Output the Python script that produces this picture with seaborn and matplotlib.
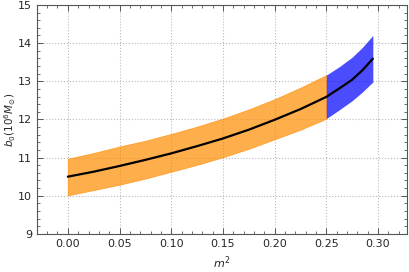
import numpy as np
import pandas as pd
import seaborn as sns
import matplotlib
matplotlib.use("Agg")
import matplotlib.pyplot as plt
from matplotlib.ticker import MultipleLocator

# values
m2 = [0.0, 0.025, 0.05, 0.075, 0.10, 0.125, 0.15, 0.175, 0.20, 0.225, 0.25, 0.2625, 0.275, 0.285, 0.295]
b0_mid = [10.50, 10.63, 10.78, 10.94, 11.11, 11.30, 11.50, 11.73, 11.99, 12.27, 12.59, 12.81, 13.04, 13.29, 13.59]
b0_hi = [10.97, 11.12, 11.29, 11.44, 11.62, 11.81, 12.02, 12.26, 12.53, 12.83, 13.16, 13.38, 13.63, 13.89, 14.20]
b0_lo = [10.01, 10.15, 10.29, 10.45, 10.63, 10.81, 11.01, 11.23, 11.48, 11.73, 12.02, 12.25, 12.49, 12.72, 12.98]
m2_split = 0.25

df = pd.DataFrame({"m2": m2, "mid": b0_mid, "hi": b0_hi, "lo": b0_lo})
left = df[df.m2 <= m2_split]
right = df[df.m2 >= m2_split]

sns.set_style("ticks")
plt.rcParams['font.family'] = ['DejaVu Sans']

fig = plt.figure(figsize=(4.09, 2.72), dpi=100)
ax = fig.add_axes([0.090, 0.140, 0.905, 0.842])

ax.fill_between(left.m2, left.lo, left.hi, color="darkorange", alpha=0.7, lw=0.6)
ax.fill_between(right.m2, right.lo, right.hi, color="blue", alpha=0.7, lw=0)
sns.lineplot(data=df, x="m2", y="mid", color="black", lw=1.6, ax=ax)

ax.set_xlim(-0.03, 0.328)
ax.set_ylim(9, 15)
ax.xaxis.set_major_locator(MultipleLocator(0.05))
ax.xaxis.set_minor_locator(MultipleLocator(0.01))
ax.yaxis.set_major_locator(MultipleLocator(1))
ax.yaxis.set_minor_locator(MultipleLocator(0.2))
ax.xaxis.set_major_formatter(matplotlib.ticker.FormatStrFormatter("%.2f"))

ax.grid(True, which="major", ls=":", color="#bbbbbb", lw=0.8)
ax.set_axisbelow(True)
ax.tick_params(which="both", direction="in", top=True, right=True, color="#555555", labelsize=8)
ax.tick_params(which="major", length=4, width=0.7)
ax.tick_params(which="minor", length=2, width=0.6)
for s in ax.spines.values():
    s.set_color("#555555")
    s.set_linewidth(0.8)

ax.set_xlabel("$m^2$", fontsize=8)
ax.set_ylabel(r"$b_0(10^6 M_{\odot})$", fontsize=7.5)
ax.yaxis.set_label_coords(-0.051, 0.5)

fig.savefig("out.png", dpi=100)
